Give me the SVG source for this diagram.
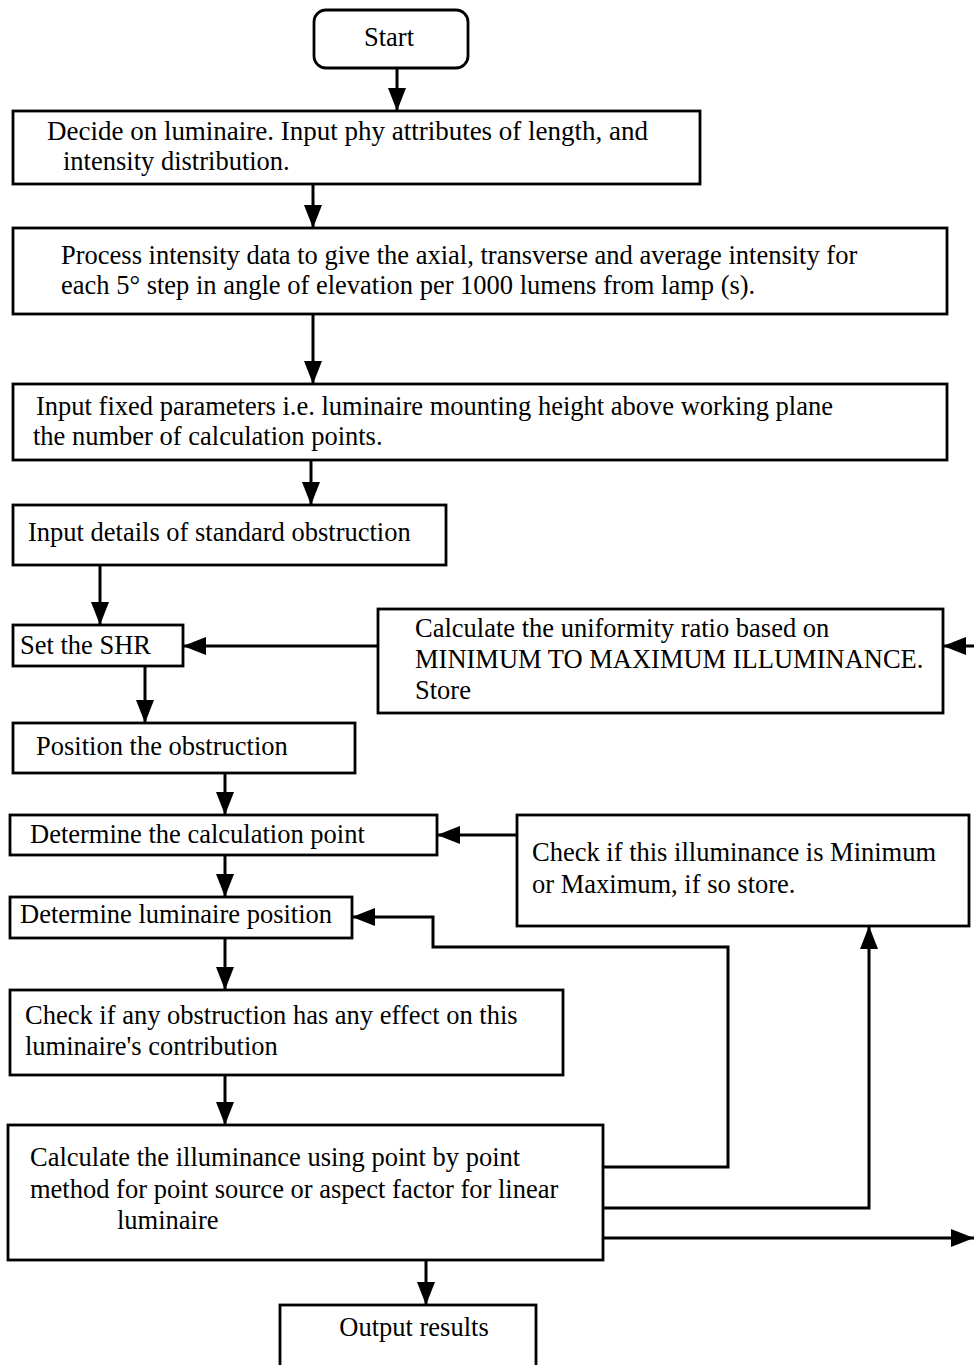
<svg xmlns="http://www.w3.org/2000/svg" width="974" height="1365" viewBox="0 0 974 1365">
<style>
.box{fill:#fff;stroke:#000;stroke-width:2.8}
.t{font-family:"Liberation Serif","Times New Roman",serif;font-size:26.5px;fill:#000}
.c{fill:none;stroke:#000;stroke-width:3}
</style>
<defs>
<marker id="ah" markerUnits="userSpaceOnUse" markerWidth="26" markerHeight="20" refX="23" refY="9" orient="auto">
<path d="M0,0 L23,9 L0,18 z" fill="#000"/>
</marker>
</defs>
<rect width="974" height="1365" fill="#fff"/>
<g id="connectors">
<path class="c" d="M397,68 V111" marker-end="url(#ah)"/>
<path class="c" d="M313,184 V228" marker-end="url(#ah)"/>
<path class="c" d="M313,314 V384" marker-end="url(#ah)"/>
<path class="c" d="M311,460 V505" marker-end="url(#ah)"/>
<path class="c" d="M100,565 V625" marker-end="url(#ah)"/>
<path class="c" d="M378,646 H183" marker-end="url(#ah)"/>
<path class="c" d="M990,646 H943" marker-end="url(#ah)"/>
<path class="c" d="M145,666 V723" marker-end="url(#ah)"/>
<path class="c" d="M225,773 V815" marker-end="url(#ah)"/>
<path class="c" d="M517,835 H437" marker-end="url(#ah)"/>
<path class="c" d="M225,855 V897" marker-end="url(#ah)"/>
<path class="c" d="M225,938 V990" marker-end="url(#ah)"/>
<path class="c" d="M225,1075 V1125" marker-end="url(#ah)"/>
<path class="c" d="M603,1167 H728 V947 H433 V917 H352" marker-end="url(#ah)"/>
<path class="c" d="M603,1208 H869 V926" marker-end="url(#ah)"/>
<path class="c" d="M603,1238 H974" marker-end="url(#ah)"/>
<path class="c" d="M426,1260 V1305" marker-end="url(#ah)"/>
</g>
<g id="start"><rect class="box" x="314" y="10" width="154" height="58" rx="12"/><text class="t" x="389" y="46" text-anchor="middle">Start</text></g>
<g id="decide"><rect class="box" x="13" y="111" width="687" height="73"/><text class="t" x="47" y="140" textLength="601" lengthAdjust="spacingAndGlyphs">Decide on luminaire.  Input phy attributes of length, and</text><text class="t" x="63" y="170">intensity distribution.</text></g>
<g id="process"><rect class="box" x="13" y="228" width="934" height="86"/><text class="t" x="61" y="264">Process intensity data to give the axial, transverse and average intensity for</text><text class="t" x="61" y="294">each 5° step in angle of elevation per 1000 lumens from lamp (s).</text></g>
<g id="fixed"><rect class="box" x="13" y="384" width="934" height="76"/><text class="t" x="36" y="415">Input fixed parameters i.e.  luminaire mounting height above working plane</text><text class="t" x="33" y="445">the number of calculation points.</text></g>
<g id="obstruction"><rect class="box" x="13" y="505" width="433" height="60"/><text class="t" x="28" y="541">Input details of standard obstruction</text></g>
<g id="shr"><rect class="box" x="13" y="625" width="170" height="41"/><text class="t" x="20" y="654">Set the SHR</text></g>
<g id="uniformity"><rect class="box" x="378" y="609" width="565" height="104"/><text class="t" x="415" y="637">Calculate the uniformity ratio based on</text><text class="t" x="415" y="668">MINIMUM TO MAXIMUM ILLUMINANCE.</text><text class="t" x="415" y="699">Store</text></g>
<g id="position"><rect class="box" x="13" y="723" width="342" height="50"/><text class="t" x="36" y="755">Position the obstruction</text></g>
<g id="calcpoint"><rect class="box" x="10" y="815" width="427" height="40"/><text class="t" x="30" y="843">Determine the calculation point</text></g>
<g id="minmax"><rect class="box" x="517" y="815" width="452" height="111"/><text class="t" x="532" y="861">Check if this illuminance is Minimum</text><text class="t" x="532" y="893">or Maximum, if so store.</text></g>
<g id="lumpos"><rect class="box" x="10" y="897" width="342" height="41"/><text class="t" x="20" y="923">Determine luminaire position</text></g>
<g id="checkobs"><rect class="box" x="10" y="990" width="553" height="85"/><text class="t" x="25" y="1024">Check if any obstruction has any effect on this</text><text class="t" x="25" y="1055">luminaire's contribution</text></g>
<g id="calcillum"><rect class="box" x="8" y="1125" width="595" height="135"/><text class="t" x="30" y="1166">Calculate the illuminance using point by point</text><text class="t" x="30" y="1198">method  for point source or aspect factor for linear</text><text class="t" x="117" y="1229">luminaire</text></g>
<g id="output"><rect class="box" x="280" y="1305" width="256" height="80"/><text class="t" x="414" y="1336" text-anchor="middle">Output results</text></g>
</svg>
